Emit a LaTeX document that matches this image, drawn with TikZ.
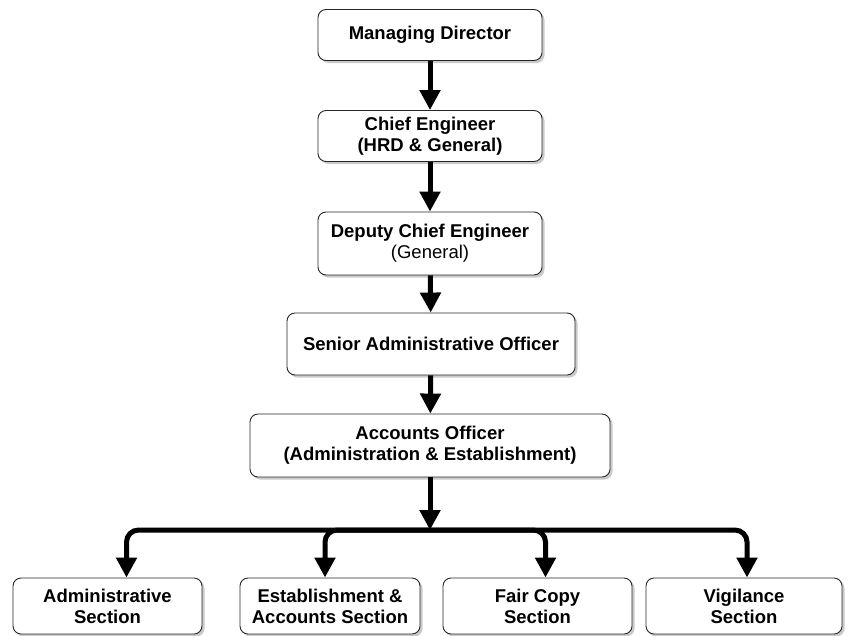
\documentclass[tikz,border=0pt]{standalone}
\usepackage{fontspec}
\setmainfont{Liberation Sans}
\usetikzlibrary{arrows.meta,shadows,calc}
\begin{document}
\begin{tikzpicture}[x=1pt,y=-1pt,
  box/.style={draw=black!85, line width=0.9pt, rounded corners=8pt, fill=white,
    drop shadow={shadow xshift=2.5pt, shadow yshift=-2.5pt, fill=black!35, opacity=0.6},
    align=center, font=\fontsize{18.5}{21}\selectfont\bfseries, inner sep=0pt},
  conn/.style={line width=5pt, -{Triangle[width=20pt,length=20pt]}},
  bus/.style={line width=5pt, rounded corners=12pt, -{Triangle[width=20pt,length=20pt]}}]
\useasboundingbox (0,0) rectangle (850,635);
\node[box, minimum width=224pt, minimum height=51pt] (md) at (430,35) {Managing Director};
\node[box, minimum width=224pt, minimum height=51pt] (ce) at (430,136) {Chief Engineer\\(HRD \& General)};
\node[box, minimum width=224pt, minimum height=63pt] (dce) at (430,243.5) {Deputy Chief Engineer\\\mdseries(General)};
\node[box, minimum width=288pt, minimum height=62pt] (sao) at (431,344) {Senior Administrative Officer};
\node[box, minimum width=360pt, minimum height=63pt] (ao) at (430,445.5) {Accounts Officer\\(Administration \& Establishment)};
\node[box, minimum width=189pt, minimum height=56pt] (adm) at (107.5,606) {Administrative\\Section};
\node[box, minimum width=180pt, minimum height=56pt] (est) at (330,606) {Establishment \&\\Accounts Section};
\node[box, minimum width=189pt, minimum height=56pt] (fcs) at (537.5,606) {Fair Copy\\Section};
\node[box, minimum width=196pt, minimum height=56pt] (vig) at (744,606) {Vigilance\\Section};
\coordinate (j) at (430,530);
\draw[conn] (md) -- (ce);
\draw[conn] (ce) -- (dce);
\draw[conn] (dce) -- (sao);
\draw[conn] (sao) -- (ao);
\draw[conn] (ao) -- (j);
\draw[bus] (j) -| ([xshift=19pt]adm.north);
\draw[bus] (j) -| ([xshift=-5pt]est.north);
\draw[bus] (j) -| ([xshift=8pt]fcs.north);
\draw[bus] (j) -| ([xshift=3pt]vig.north);
\end{tikzpicture}
\end{document}
